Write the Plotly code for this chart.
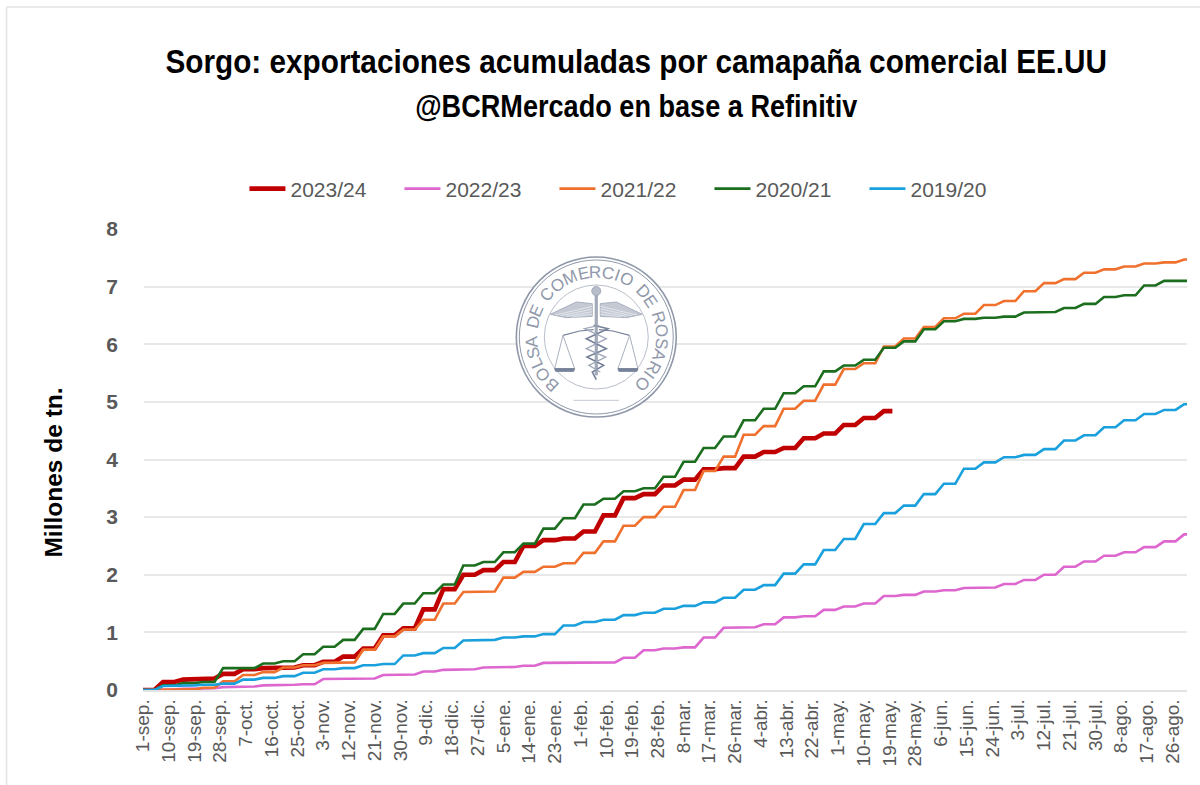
import math
import plotly.graph_objects as go

tick_labels = ["1-sep.","10-sep.","19-sep.","28-sep.","7-oct.","16-oct.","25-oct.","3-nov.","12-nov.","21-nov.","30-nov.",
    "9-dic.","18-dic.","27-dic.","5-ene.","14-ene.","23-ene.","1-feb.","10-feb.","19-feb.","28-feb.","8-mar.","17-mar.",
    "26-mar.","4-abr.","13-abr.","22-abr.","1-may.","10-may.","19-may.","28-may.","6-jun.","15-jun.","24-jun.","3-jul.",
    "12-jul.","21-jul.","30-jul.","8-ago.","17-ago.","26-ago."]
tick_days = list(range(0, 361, 9))

week_days = list(range(0, 365, 7))

s_2023 = [0,.14,.18,.20,.28,.36,.38,.39,.43,.49,.58,.72,.95,1.07,1.40,1.75,2.00,2.08,2.22,2.50,2.60,2.63,2.75,3.03,3.33,3.40,
          3.55,3.65,3.83,3.85,4.05,4.13,4.20,4.37,4.45,4.60,4.72,4.84]
s_2022 = [0,.01,.02,.03,.05,.06,.08,.09,.10,.19,.19,.20,.26,.27,.32,.35,.36,.39,.40,.42,.47,.48,.48,.48,.56,.69,
          .72,.74,.91,1.08,1.09,1.14,1.26,1.28,1.39,1.45,1.50,1.63,1.65,1.71,1.73,1.77,1.78,1.84,1.91,2.00,2.14,2.23,2.33,2.39,2.48,2.58,2.70]
s_2021 = [0,0,.01,.04,.15,.26,.31,.39,.43,.47,.48,.70,.93,1.05,1.22,1.50,1.70,1.71,1.95,2.05,2.14,2.20,2.38,2.58,2.85,3.00,
          3.18,3.47,3.80,4.05,4.43,4.58,4.88,5.02,5.30,5.57,5.67,5.96,6.10,6.30,6.45,6.53,6.68,6.75,6.92,7.06,7.13,7.24,7.30,7.35,7.40,7.42,7.47]
s_2020 = [0,.08,.12,.14,.38,.38,.46,.50,.62,.75,.87,1.06,1.32,1.50,1.68,1.83,2.16,2.22,2.39,2.54,2.80,2.98,3.22,3.32,3.45,3.50,
          3.70,3.96,4.20,4.40,4.68,4.88,5.15,5.27,5.53,5.63,5.73,5.94,6.05,6.26,6.40,6.44,6.46,6.48,6.55,6.56,6.63,6.70,6.82,6.85,7.02,7.10,7.10]
s_2019 = [0,.07,.08,.09,.11,.18,.21,.24,.30,.36,.38,.43,.45,.60,.64,.73,.86,.87,.91,.93,.97,1.12,1.18,1.22,1.30,1.34,
          1.41,1.46,1.52,1.60,1.74,1.82,2.02,2.18,2.43,2.62,2.88,3.07,3.20,3.40,3.58,3.84,3.95,4.04,4.08,4.18,4.33,4.42,4.56,4.68,4.79,4.86,4.96]

series = [("2023/24", s_2023, "#c00000", 4.6, 262),
          ("2022/23", s_2022, "#dd66cf", 2.6, 365),
          ("2021/22", s_2021, "#f0702e", 2.6, 365),
          ("2020/21", s_2020, "#1c6e1f", 2.6, 365),
          ("2019/20", s_2019, "#1aa0dc", 2.6, 365)]

W, H = 1200, 785
L, R, T, B = 142.5, 1187, 229, 690
px = lambda x: (x - L) / (R - L)
py = lambda y: (B - y) / (B - T)

def stair(vals, end):
    """Each weekly reading is held, then climbs to the next reading over the last days of the week."""
    xs, ys = [], []
    for i, v in enumerate(vals):
        xs.append(week_days[i]); ys.append(v)
        if i + 1 < len(vals):
            xs.append(week_days[i + 1] - 3); ys.append(v)
    xs.append(end); ys.append(vals[-1])
    return xs, ys

fig = go.Figure()
for name, vals, col, w, end in series:
    xs, ys = stair(vals, end)
    fig.add_trace(go.Scatter(x=xs, y=ys, name=name, mode="lines", line=dict(color=col, width=w)))

shapes = []
SEAL = "#8f98aa"
DARK = "#76829a"
CX, CY = 596, 337

def circle(r, color=SEAL, width=1.5, fill=None, cx=CX, cy=CY):
    shapes.append(dict(type="circle", xref="paper", yref="paper",
                       x0=px(cx - r), x1=px(cx + r), y0=py(cy + r), y1=py(cy - r),
                       line=dict(color=color, width=width), fillcolor=fill or "rgba(0,0,0,0)"))

def path(points, color=SEAL, width=1.0, fill=None, close=False):
    # emblem points are in thirds of a pixel, relative to the seal centre
    d = ""
    for i, (a, b) in enumerate(points):
        d += ("M" if i == 0 else "L") + f"{px(CX + a / 3):.5f},{py(CY + b / 3):.5f} "
    if close:
        d += "Z"
    shapes.append(dict(type="path", xref="paper", yref="paper", path=d,
                       line=dict(color=color, width=width), fillcolor=fill or "rgba(0,0,0,0)"))

# page frame
for a, b, c, d in [(6, 7, 1200, 7), (6, 7, 6, 785)]:
    shapes.append(dict(type="line", xref="paper", yref="paper", x0=px(a), x1=px(c), y0=py(b), y1=py(d),
                       line=dict(color="#e3e3e3", width=1.5)))

# seal
circle(80, width=1.6, fill="#ffffff")
circle(77, width=1.0)
circle(52, color="#b9bfcb", width=1.0)
for s in (-1, 1):
    path([(s*12, -100), (s*60, -105), (s*138, -68), (s*90, -58), (s*12, -62)], color="#a9b0bf", fill="#c4c9d4", close=True)
    for k in range(1, 5):
        path([(s*12, -100 + k*8), (s*(138 - k*16), -68 + k*2)], color="#eef0f3", width=0.7)
    path([(s*8, -22), (s*50, -18), (s*100, -5)], color=DARK, width=1.2)
    path([(s*100, -5), (s*125, 95), (s*65, 95), (s*100, -5)], color="#a9b0bf", width=1.0)
    path([(s*125, 95), (s*65, 95), (s*68, 103), (s*122, 103)], color=DARK, fill=DARK, close=True)
path([(0, -130), (0, 115)], color="#a2aaba", width=3.2)
circle(4.5, color="#a2aaba", width=1, fill="#b7bdca", cy=CY - 46)
path([(-8, -35), (35, -25), (-30, 5), (30, 35), (-28, 60), (22, 85), (-12, 105), (0, 128)], color=DARK, width=1.6)
path([(8, -35), (-35, -25), (30, 5), (-30, 35), (28, 60), (-22, 85), (12, 105)], color="#a2aaba", width=1.4)
path([(-68, 190), (68, 190)], color="#b5bbc7", width=0.8)

annotations = [
    dict(text="Millones de tn.", x=px(52), y=py(473), xref="paper", yref="paper", showarrow=False, textangle=-90,
         xanchor="center", yanchor="middle", font=dict(family="Liberation Sans", size=24.5, color="#000000", weight="bold")),
]

seal_text = "BOLSA DE COMERCIO DE ROSARIO"
adv = {" ": 0.55, "I": 0.5, "M": 1.3, "O": 1.15, "C": 1.1, "L": 0.85, "E": 0.9, "S": 0.95}
weights = [adv.get(c, 1.0) for c in seal_text]
start, stop = -137.0, 135.0
per = (stop - start) / (sum(weights) - 0.5 * (weights[0] + weights[-1]))
ang = start
for i, c in enumerate(seal_text):
    if i:
        ang += per * 0.5 * (weights[i - 1] + weights[i])
    if c == " ":
        continue
    rad = math.radians(ang)
    annotations.append(dict(text=c, x=px(CX + 65 * math.sin(rad)), y=py(CY - 65 * math.cos(rad)),
                            xref="paper", yref="paper", showarrow=False, textangle=ang,
                            xanchor="center", yanchor="middle",
                            font=dict(family="Liberation Sans", size=17, color=SEAL)))

fig.update_layout(
    width=W, height=H, autosize=False,
    margin=dict(l=L, r=W - R, t=T, b=H - B, pad=0),
    paper_bgcolor="#ffffff", plot_bgcolor="#ffffff",
    title=dict(text="Sorgo: exportaciones acumuladas por camapaña comercial EE.UU<br>"
                    "<span style='font-size:31px'>@BCRMercado en base a Refinitiv</span>",
               x=px(636), xref="paper", xanchor="center", y=1 - 73 / H, yref="container", yanchor="top",
               font=dict(family="Liberation Sans", size=34, color="#000000", weight="bold")),
    legend=dict(orientation="h", x=px(244), y=py(189), xref="paper", yref="paper", xanchor="left", yanchor="middle",
                font=dict(family="Liberation Sans", size=21, color="#595959"),
                itemwidth=36, entrywidth=104, entrywidthmode="pixels", traceorder="normal",
                tracegroupgap=0, bgcolor="rgba(0,0,0,0)"),
    showlegend=True,
    xaxis=dict(range=[0, 365], tickmode="array", tickvals=tick_days, ticktext=tick_labels, tickangle=-90,
               showgrid=False, showline=True, linecolor="#e3e3e3", linewidth=1.5, ticks="",
               tickfont=dict(family="Liberation Sans", size=19, color="#595959"), fixedrange=True),
    yaxis=dict(range=[0, 8], tickmode="array", tickvals=list(range(9)), ticktext=[str(i) for i in range(9)],
               showgrid=True, gridcolor="#e8e8e8", gridwidth=1.5, zeroline=False, showline=False, ticks="",
               ticklabelstandoff=24,
               tickfont=dict(family="Liberation Sans", size=21, color="#595959", weight="bold"), fixedrange=True),
    shapes=shapes, annotations=annotations,
)
post = """
document.body.style.margin = '0';
document.documentElement.style.overflow = 'hidden';
var t = document.querySelector('.gtitle');
if (t) {
  var b = t.getBBox();
  var cx = b.x + b.width / 2, s = 942 / b.width;
  t.setAttribute('transform', 'translate(' + cx + ',0) scale(' + s + ',1) translate(' + (-cx) + ',0)');
}
"""
fig.write_html("out.html", config=dict(displayModeBar=False), post_script=post)
